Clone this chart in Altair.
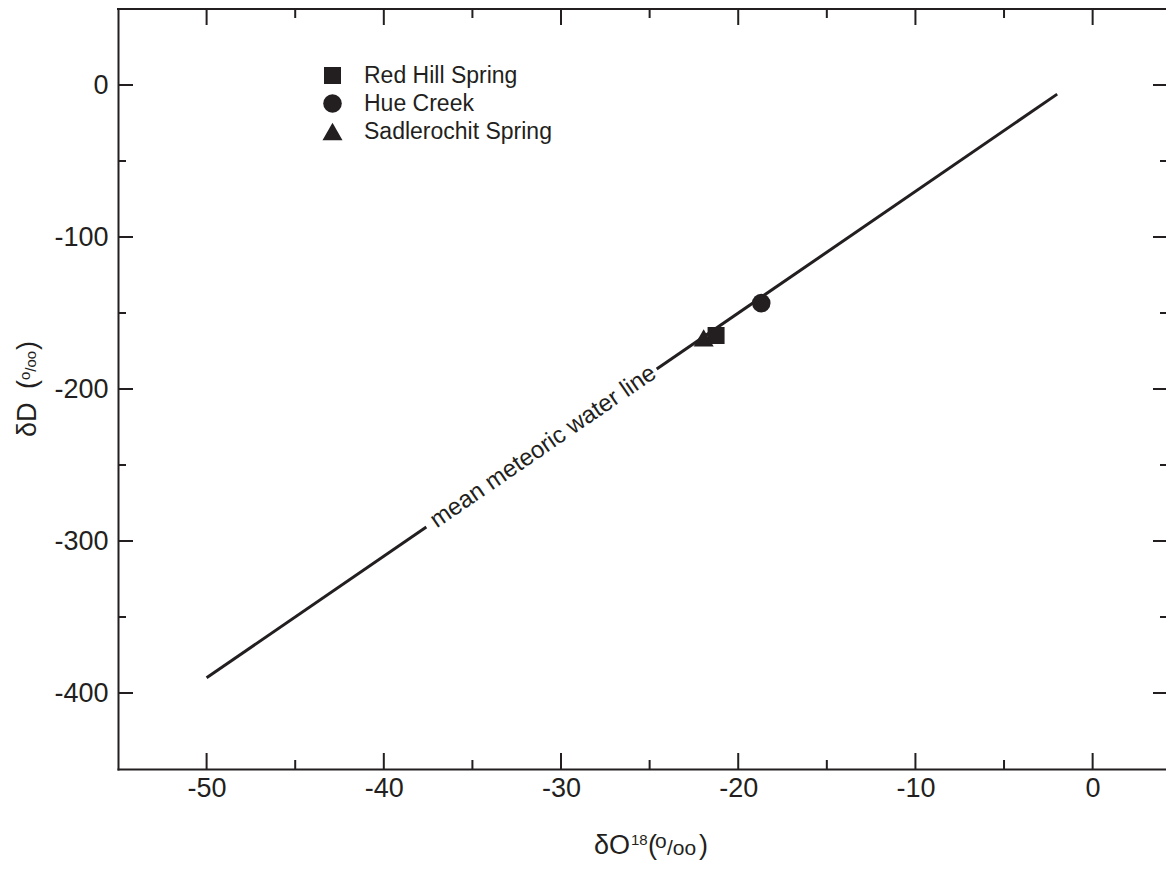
import altair as alt
import pandas as pd

INK = "#231f20"
FONT = "Liberation Sans"

# ---- data ----
sites = ["Red Hill Spring", "Hue Creek", "Sadlerochit Spring"]
site_d18o = [-21.25, -18.7, -21.95]
site_dD = [-164.8, -143.5, -166.4]
site_shapes = ["square", "circle", "triangle-up"]
site_sizes = [289, 400, 400]

mwl_d18o = [-50, -37.6, -24.6, -2]
mwl_dD = [-390, -290.8, -186.8, -6]
mwl_part = ["lower", "lower", "upper", "upper"]

mwl_label = ["mean meteoric water line"]
mwl_label_d18o = [-31.0]
mwl_label_dD = [-238.0]

x_major = [-50, -40, -30, -20, -10, 0]
x_minor = [-45, -35, -25, -15, -5]
y_major = [0, -100, -200, -300, -400]
y_minor = [-50, -150, -250, -350]

X_DOMAIN = [-55, 4.14]
Y_DOMAIN = [-450, 50]
W, H = 1048, 760

# ---- shared scales / axes ----
xscale = alt.Scale(domain=X_DOMAIN, nice=False, zero=False)
yscale = alt.Scale(domain=Y_DOMAIN, nice=False, zero=False)
axis_common = dict(labelExpr="datum.value + ''", ticks=False, domain=True, domainColor=INK,
                   domainWidth=2, domainCap="square", grid=False, labelFontSize=27,
                   labelFont=FONT, labelColor=INK)
xaxis = alt.Axis(values=x_major, labelPadding=6, labelFlush=False, **axis_common)
yaxis = alt.Axis(values=y_major, labelPadding=10, **axis_common)


def X(field):
    return alt.X(field, type="quantitative", scale=xscale, axis=xaxis, title=None)


def Y(field):
    return alt.Y(field, type="quantitative", scale=yscale, axis=yaxis, title=None)


# ---- meteoric water line ----
line_df = pd.DataFrame({"d18o": mwl_d18o, "dD": mwl_dD, "part": mwl_part})
line = alt.Chart(line_df).mark_line(color=INK, strokeWidth=3, clip=True).encode(
    x=X("d18o"), y=Y("dD"), detail="part:N"
)

label_df = pd.DataFrame({"d18o": mwl_label_d18o, "dD": mwl_label_dD, "t": mwl_label})
label = alt.Chart(label_df).mark_text(
    angle=325.5, align="center", baseline="middle", fontSize=24, font=FONT, color=INK
).encode(x=X("d18o"), y=Y("dD"), text="t:N")

# ---- sample points ----
pts_df = pd.DataFrame({"site": sites, "d18o": site_d18o, "dD": site_dD})
leg = alt.Legend(orient="none", legendX=203, legendY=55, title=None, padding=0,
                 rowPadding=4, labelOffset=20, labelFontSize=23, labelFont=FONT,
                 labelColor=INK, labelLimit=400, symbolStrokeWidth=0,
                 symbolFillColor=INK)
points = alt.Chart(pts_df).mark_point(filled=True, color=INK, opacity=1).encode(
    x=X("d18o"),
    y=Y("dD"),
    shape=alt.Shape("site:N", scale=alt.Scale(domain=sites, range=site_shapes), legend=leg),
    size=alt.Size("site:N", scale=alt.Scale(domain=sites, range=site_sizes), legend=leg),
)

# ---- top frame line and inward ticks on all four sides ----
one = alt.Data(values=[{}])
rk = dict(color=INK, strokeWidth=2)
top_frame = alt.Chart(one).mark_rule(**rk).encode(
    x=alt.value(-1), x2=alt.value(W), y=alt.value(0)
)

xM = pd.DataFrame({"v": x_major})
xm = pd.DataFrame({"v": x_minor})
yM = pd.DataFrame({"v": y_major})
ym = pd.DataFrame({"v": y_minor})
ticks = [
    alt.Chart(xM).mark_rule(**rk).encode(x=X("v"), y=alt.value(0), y2=alt.value(16)),
    alt.Chart(xm).mark_rule(**rk).encode(x=X("v"), y=alt.value(0), y2=alt.value(9)),
    alt.Chart(xM).mark_rule(**rk).encode(x=X("v"), y=alt.value(H), y2=alt.value(H - 16)),
    alt.Chart(xm).mark_rule(**rk).encode(x=X("v"), y=alt.value(H), y2=alt.value(H - 9)),
    alt.Chart(yM).mark_rule(**rk).encode(y=Y("v"), x=alt.value(0), x2=alt.value(15)),
    alt.Chart(ym).mark_rule(**rk).encode(y=Y("v"), x=alt.value(0), x2=alt.value(8)),
    alt.Chart(yM).mark_rule(**rk).encode(y=Y("v"), x=alt.value(W), x2=alt.value(W - 13)),
    alt.Chart(ym).mark_rule(**rk).encode(y=Y("v"), x=alt.value(W), x2=alt.value(W - 6)),
]


# ---- axis titles (mixed-size text pieces) ----
def piece(txt, px, py, size, angle=0):
    kw = dict(align="left", baseline="alphabetic", fontSize=size, font=FONT, color=INK)
    if angle:
        kw["angle"] = angle
    return alt.Chart(one).mark_text(**kw).encode(
        x=alt.value(px), y=alt.value(py), text=alt.value(txt)
    )


titles = [
    piece("δO", 476, 845, 27),
    piece("18", 513, 836, 15),
    piece("(", 530, 845, 27),
    piece("o", 537, 839, 21),
    piece("/oo", 549, 846, 21),
    piece(")", 581, 845, 27),
    piece("δD", -82, 428, 27, 270),
    piece("(", -82, 380, 27, 270),
    piece("o", -88, 371, 15, 270),
    piece("/oo", -82, 362.7, 15, 270),
    piece(")", -82, 341, 27, 270),
]

chart = alt.layer(line, label, points, top_frame, *ticks, *titles).properties(
    width=W, height=H,
    autosize=alt.AutoSizeParams(type="none"),
    padding={"left": 110, "top": 1, "right": 0, "bottom": 95},
).configure(
    font=FONT, background="white", view=alt.ViewConfig(stroke="transparent")
).resolve_scale(
    x="shared", y="shared"
)

chart.save("out.html", embed_options={"renderer": "svg", "actions": False})
